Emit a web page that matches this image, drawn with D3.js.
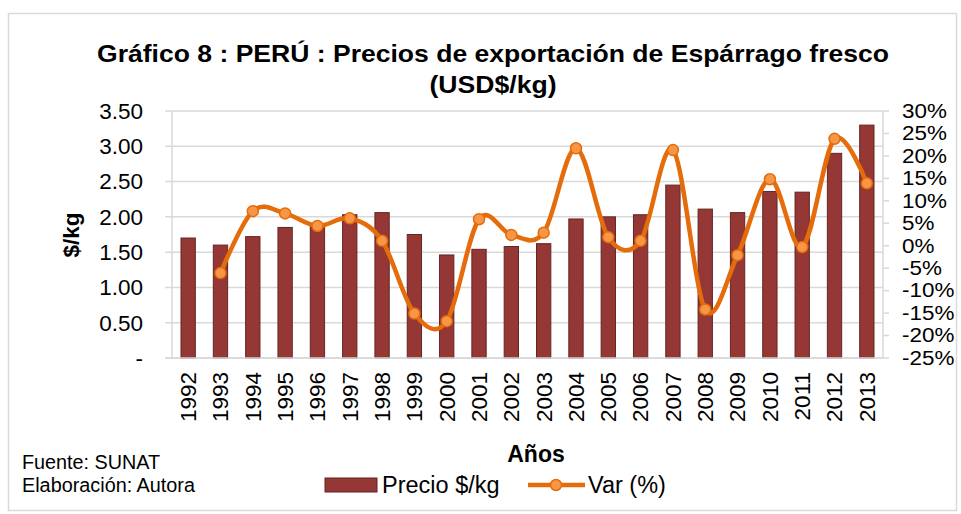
<!DOCTYPE html>
<html><head><meta charset="utf-8">
<script src="https://cdn.jsdelivr.net/npm/d3@7/dist/d3.min.js"></script>
<style>body{margin:0;background:#fff}svg{font-family:"Liberation Sans",Arial,sans-serif}</style>
</head><body><svg id="c" width="961" height="514"></svg>
<script>
const years = ["1992","1993","1994","1995","1996","1997","1998","1999","2000","2001","2002","2003","2004","2005","2006","2007","2008","2009","2010","2011","2012","2013"];
const precio = [1.70,1.60,1.72,1.85,1.90,2.03,2.06,1.75,1.46,1.54,1.58,1.62,1.97,2.00,2.03,2.45,2.11,2.06,2.36,2.35,2.90,3.30];
const variacion = [null,-6.1,7.7,7.2,4.4,6.1,1.1,-15.1,-16.8,5.9,2.4,2.9,21.7,1.9,1.1,21.3,-14.2,-2.1,14.8,-0.3,23.8,13.9];
const leftTicks = [0,0.5,1,1.5,2,2.5,3,3.5];
const rightTicks = [-25,-20,-15,-10,-5,0,5,10,15,20,25,30];

const svg = d3.select("#c");
const L=172,R=883,T=111,B=358;
const grid="#d9d9d9";
const FS=22.5;

svg.append("rect").attr("x",8.5).attr("y",13.5).attr("width",948).attr("height",497)
  .attr("fill","#fff").attr("stroke","#d9d9d9").attr("stroke-width",1.5);

const x = d3.scaleBand().domain(years).range([L,R]).paddingInner(0.557).paddingOuter(0.2785);
const y = d3.scaleLinear().domain([0,3.5]).range([B,T]);
const y2 = d3.scaleLinear().domain([-25,30]).range([B,T]);

// gridlines
svg.append("g").selectAll("line").data(leftTicks).join("line")
  .attr("x1",L-7).attr("x2",R).attr("y1",d=>y(d)).attr("y2",d=>y(d))
  .attr("stroke",grid).attr("stroke-width",1.5);
svg.append("line").attr("x1",L).attr("x2",L).attr("y1",T).attr("y2",B).attr("stroke",grid).attr("stroke-width",1.5);
svg.append("line").attr("x1",R).attr("x2",R).attr("y1",T).attr("y2",B).attr("stroke",grid).attr("stroke-width",1.5);
svg.append("g").selectAll("line").data(rightTicks).join("line")
  .attr("x1",R).attr("x2",R+6).attr("y1",d=>y2(d)).attr("y2",d=>y2(d)).attr("stroke",grid).attr("stroke-width",1.5);

// left labels
svg.append("g").selectAll("text").data(leftTicks).join("text")
  .attr("x",143).attr("y",d=>y(d)).attr("dy","0.35em").attr("text-anchor","end")
  .attr("font-size",FS).attr("fill","#000")
  .text(d=>d===0?"-":d.toFixed(2));
// right labels
svg.append("g").selectAll("text").data(rightTicks).join("text")
  .attr("x",902).attr("y",d=>y2(d)).attr("dy","0.35em").attr("text-anchor","start")
  .attr("font-size",19.5).attr("fill","#000")
  .text(d=>d+"%")
  .each(function(){ const w=this.getComputedTextLength(); d3.select(this).attr("textLength",w*1.15).attr("lengthAdjust","spacingAndGlyphs"); });

// bars
svg.append("g").selectAll("rect").data(years).join("rect")
  .attr("x",d=>x(d)).attr("width",x.bandwidth())
  .attr("y",(d,i)=>y(precio[i])).attr("height",(d,i)=>B-y(precio[i]))
  .attr("fill","#953735").attr("stroke","#632523").attr("stroke-width",1);

svg.append("line").attr("x1",L-7).attr("x2",R).attr("y1",B).attr("y2",B).attr("stroke",grid).attr("stroke-width",1.5);

// x labels
svg.append("g").selectAll("text").data(years).join("text")
  .attr("transform",d=>`translate(${x(d)+x.bandwidth()/2},372) rotate(-90)`)
  .attr("dy","0.35em").attr("text-anchor","end").attr("font-size",FS).attr("fill","#000")
  .text(d=>d);

// line
const pts = years.map((d,i)=>({d,v:variacion[i]})).filter(p=>p.v!==null);
const line = d3.line().x(p=>x(p.d)+x.bandwidth()/2).y(p=>y2(p.v)).curve(d3.curveCardinal.tension(0));
svg.append("path").datum(pts).attr("d",line).attr("fill","none").attr("stroke","#E46C0A").attr("stroke-width",4.5);
svg.append("g").selectAll("circle").data(pts).join("circle")
  .attr("cx",p=>x(p.d)+x.bandwidth()/2).attr("cy",p=>y2(p.v)).attr("r",5.5)
  .attr("fill","#F79646").attr("stroke","#E46C0A").attr("stroke-width",1.5);

// titles
svg.append("text").attr("x",493).attr("y",62).attr("text-anchor","middle").attr("font-size",24.5).attr("font-weight","bold")
  .attr("textLength",792).attr("lengthAdjust","spacingAndGlyphs")
  .text("Gráfico 8 : PERÚ : Precios de exportación de Espárrago fresco");
svg.append("text").attr("x",493).attr("y",93).attr("text-anchor","middle").attr("font-size",24.5).attr("font-weight","bold")
  .attr("textLength",127).attr("lengthAdjust","spacingAndGlyphs")
  .text("(USD$/kg)");
svg.append("text").attr("transform","translate(79,235) rotate(-90)").attr("text-anchor","middle").attr("font-size",FS).attr("font-weight","bold")
  .text("$/kg");
svg.append("text").attr("x",536).attr("y",462).attr("text-anchor","middle").attr("font-size",23).attr("font-weight","bold")
  .text("Años");

// legend
const lg = svg.append("g");
lg.append("rect").attr("x",325).attr("y",478).attr("width",52).attr("height",14).attr("fill","#953735").attr("stroke","#632523");
lg.append("text").attr("x",382).attr("y",493).attr("font-size",23.5).text("Precio $/kg");
lg.append("line").attr("x1",528).attr("x2",585).attr("y1",485).attr("y2",485).attr("stroke","#E46C0A").attr("stroke-width",4.5);
lg.append("circle").attr("cx",556).attr("cy",485).attr("r",5.5).attr("fill","#F79646").attr("stroke","#E46C0A").attr("stroke-width",1.5);
lg.append("text").attr("x",588).attr("y",493).attr("font-size",23.5).text("Var (%)");

// source
const src = svg.append("g").attr("font-size",20);
src.append("text").attr("x",22).attr("y",469).attr("textLength",138).attr("lengthAdjust","spacingAndGlyphs").text("Fuente: SUNAT");
src.append("text").attr("x",22).attr("y",492).attr("textLength",173).attr("lengthAdjust","spacingAndGlyphs").text("Elaboración: Autora");
</script></body></html>
